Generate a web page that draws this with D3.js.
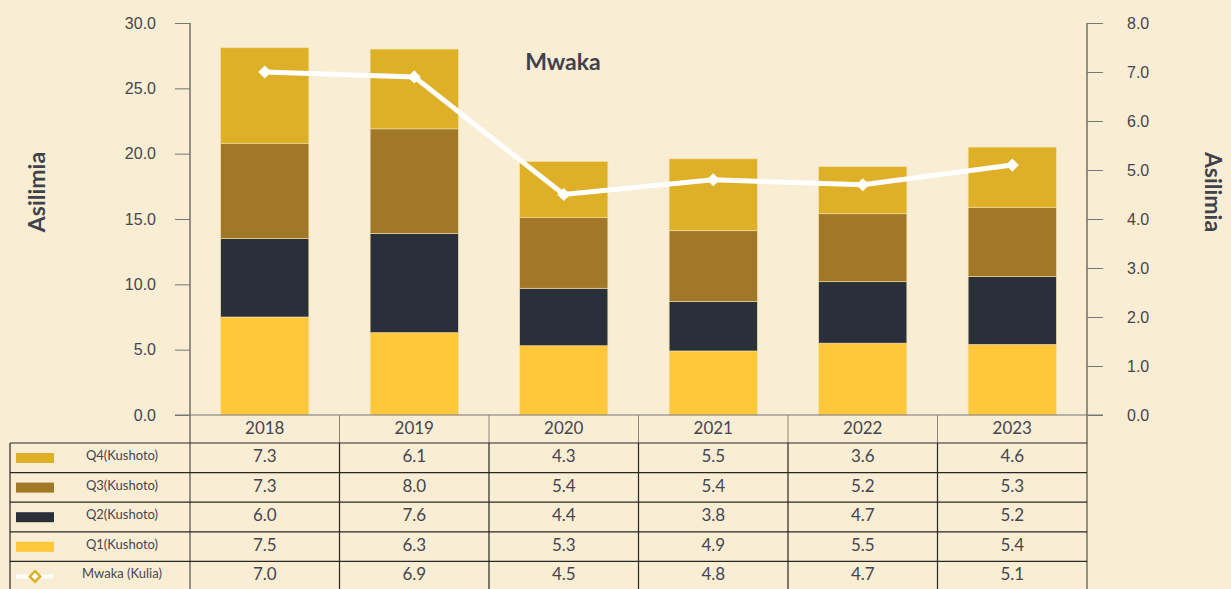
<!DOCTYPE html>
<html>
<head>
<meta charset="utf-8">
<script src="https://cdn.jsdelivr.net/npm/d3@7"></script>
<style>
  body { margin: 0; background: #f9edd4; }
  svg { display: block; font-family: Lato, "Open Sans", sans-serif; }
</style>
</head>
<body>
<div id="chart"></div>
<script>
// chart data
const years = ['2018', '2019', '2020', '2021', '2022', '2023'];
const q1 = [7.5, 6.3, 5.3, 4.9, 5.5, 5.4];
const q2 = [6.0, 7.6, 4.4, 3.8, 4.7, 5.2];
const q3 = [7.3, 8.0, 5.4, 5.4, 5.2, 5.3];
const q4 = [7.3, 6.1, 4.3, 5.5, 3.6, 4.6];
const annual = [7.0, 6.9, 4.5, 4.8, 4.7, 5.1];
const leftTicks = [0, 5, 10, 15, 20, 25, 30];
const rightTicks = [0, 1, 2, 3, 4, 5, 6, 7, 8];

const W = 1231, H = 589;
const plotLeft = 190, plotRight = 1087, plotTop = 23, base = 415;
const textCol = '#45454f';

const series = [
  { key: 'Q1(Kushoto)', values: q1, color: '#ffc83a' },
  { key: 'Q2(Kushoto)', values: q2, color: '#293039' },
  { key: 'Q3(Kushoto)', values: q3, color: '#a07828' },
  { key: 'Q4(Kushoto)', values: q4, color: '#ddb027' }
];

const svg = d3.select('#chart').append('svg')
  .attr('width', W).attr('height', H);

svg.append('rect').attr('width', W).attr('height', H).attr('fill', '#f9edd4');

const x = d3.scaleBand().domain(years).range([plotLeft, plotRight]).paddingInner(0.41).paddingOuter(0.205);
const xCol = d3.scaleBand().domain(years).range([plotLeft, plotRight]);
const yL = d3.scaleLinear().domain([0, 30]).range([base, plotTop]);
const yR = d3.scaleLinear().domain([0, 8]).range([base, plotTop]);

// stacked bars
const rows = years.map((yr, i) => {
  const r = { year: yr };
  series.forEach(s => r[s.key] = s.values[i]);
  return r;
});
const stacked = d3.stack().keys(series.map(s => s.key))(rows);

svg.append('g').selectAll('g')
  .data(stacked)
  .enter().append('g')
  .attr('fill', (d, i) => series[i].color)
  .selectAll('rect')
  .data(d => d)
  .enter().append('rect')
  .attr('x', d => x(d.data.year))
  .attr('width', x.bandwidth())
  .attr('y', d => yL(d[1]))
  .attr('height', d => yL(d[0]) - yL(d[1]))
  .attr('stroke', '#f3dfa8')
  .attr('stroke-width', 0.6);

// left axis
const gl = svg.append('g').attr('transform', `translate(${plotLeft},0)`)
  .call(d3.axisLeft(yL).tickValues(leftTicks).tickFormat(d3.format('.1f')).tickSize(15).tickPadding(19));
gl.select('.domain').attr('stroke', '#333').attr('d', `M0,${plotTop}V${H}`);
gl.selectAll('.tick line').attr('stroke', '#777');
gl.selectAll('.tick text').attr('fill', textCol).style('font-size', '16px');

// right axis
const gr = svg.append('g').attr('transform', `translate(${plotRight},0)`)
  .call(d3.axisRight(yR).tickValues(rightTicks).tickFormat(d3.format('.1f')).tickSize(16).tickPadding(24));
gr.select('.domain').attr('stroke', '#333').attr('d', `M0,${plotTop}V${H}`);
gr.selectAll('.tick line').attr('stroke', '#777');
gr.selectAll('.tick text').attr('fill', textCol).style('font-size', '16px');

// baseline
svg.append('line').attr('x1', 175).attr('x2', 1103).attr('y1', base).attr('y2', base)
  .attr('stroke', '#777').attr('stroke-width', 1.2);

// line series
const line = d3.line()
  .x((d, i) => x(years[i]) + x.bandwidth() / 2)
  .y(d => yR(d));
svg.append('path').datum(annual)
  .attr('d', line).attr('fill', 'none')
  .attr('stroke', '#fff').attr('stroke-width', 5);
svg.append('g').selectAll('path')
  .data(annual)
  .enter().append('path')
  .attr('d', d3.symbol(d3.symbolDiamond2, 110))
  .attr('transform', (d, i) => `translate(${x(years[i]) + x.bandwidth() / 2},${yR(d)})`)
  .attr('fill', '#fff');

// titles
svg.append('text').attr('x', 563).attr('y', 70).attr('text-anchor', 'middle')
  .attr('fill', '#3f414b').style('font-size', '23px').style('font-weight', 'bold').text('Mwaka');
svg.append('text').attr('transform', 'translate(45,192) rotate(-90)').attr('text-anchor', 'middle')
  .attr('fill', '#3f414b').style('font-size', '23px').style('font-weight', 'bold').text('Asilimia');
svg.append('text').attr('transform', 'translate(1205,192) rotate(90)').attr('text-anchor', 'middle')
  .attr('fill', '#3f414b').style('font-size', '23px').style('font-weight', 'bold').text('Asilimia');

// data table
const rowH = 29.6, headTop = 415, bodyTop = 443;
const tableRows = [
  { label: 'Q4(Kushoto)', values: q4, color: '#ddb027' },
  { label: 'Q3(Kushoto)', values: q3, color: '#a07828' },
  { label: 'Q2(Kushoto)', values: q2, color: '#293039' },
  { label: 'Q1(Kushoto)', values: q1, color: '#ffc83a' },
  { label: 'Mwaka (Kulia)', values: annual, line: true }
];
const table = svg.append('g');

// header cells
years.forEach(yr => {
  table.append('text').attr('x', xCol(yr) + xCol.bandwidth() / 2).attr('y', headTop + 19)
    .attr('text-anchor', 'middle').attr('fill', textCol).style('font-size', '17px').text(yr);
});
xCol.domain().forEach((yr, i) => {
  if (i > 0) table.append('line').attr('x1', xCol(yr)).attr('x2', xCol(yr))
    .attr('y1', headTop).attr('y2', bodyTop).attr('stroke', '#8c8474');
});

tableRows.forEach((r, i) => {
  const y0 = bodyTop + i * rowH;
  if (r.line) {
    table.append('line').attr('x1', 16).attr('x2', 53).attr('y1', y0 + 15).attr('y2', y0 + 15)
      .attr('stroke', '#fff').attr('stroke-width', 4);
    table.append('path').attr('d', d3.symbol(d3.symbolDiamond2, 70))
      .attr('transform', `translate(35,${y0 + 15})`)
      .attr('fill', '#fff').attr('stroke', '#ddb027').attr('stroke-width', 2.5);
  } else {
    table.append('rect').attr('x', 16).attr('y', y0 + 10).attr('width', 38).attr('height', 10)
      .attr('fill', r.color);
  }
  table.append('text').attr('x', 122).attr('y', y0 + 17).attr('text-anchor', 'middle')
    .attr('fill', textCol).style('font-size', '13px').text(r.label);
  r.values.forEach((v, j) => {
    table.append('text').attr('x', xCol(years[j]) + xCol.bandwidth() / 2).attr('y', y0 + 19)
      .attr('text-anchor', 'middle').attr('fill', textCol).style('font-size', '17px')
      .text(d3.format('.1f')(v));
  });
});

// grid lines of table body
for (let i = 0; i <= tableRows.length; i++) {
  table.append('line').attr('x1', 10).attr('x2', plotRight)
    .attr('y1', bodyTop + i * rowH).attr('y2', bodyTop + i * rowH)
    .attr('stroke', '#2a2622').attr('stroke-width', 1.2);
}
[10].concat(years.map(yr => xCol(yr)).slice(1)).forEach(xv => {
  table.append('line').attr('x1', xv).attr('x2', xv).attr('y1', bodyTop).attr('y2', H)
    .attr('stroke', '#2a2622').attr('stroke-width', 1.2);
});
</script>
</body>
</html>
